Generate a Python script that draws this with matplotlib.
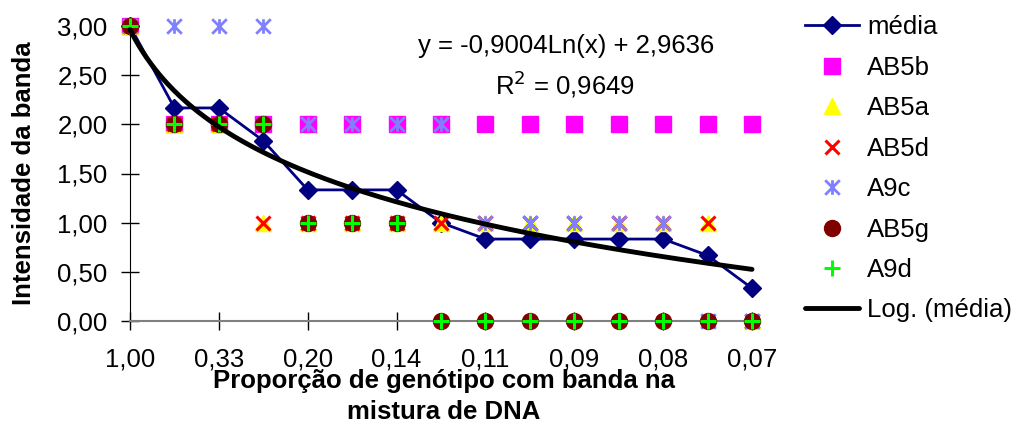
import numpy as np
import matplotlib
matplotlib.use("Agg")
import matplotlib.pyplot as plt
from matplotlib.path import Path

plt.rcParams['font.family'] = ['Liberation Sans', 'DejaVu Sans']

# Data
proportions = [1/1, 1/2, 1/3, 1/4, 1/5, 1/6, 1/7, 1/8, 1/9, 1/10, 1/11, 1/12, 1/13, 1/14, 1/15]
tick_labels = ["1,00", "0,33", "0,20", "0,14", "0,11", "0,09", "0,08", "0,07"]
AB5b = [3, 2, 2, 2, 2, 2, 2, 2, 2, 2, 2, 2, 2, 2, 2]
AB5a = [3, 2, 2, 1, 1, 1, 1, 1, 1, 1, 1, 1, 1, 1, 0]
AB5d = [3, 2, 2, 1, 1, 1, 1, 1, 1, 1, 1, 1, 1, 1, 0]
A9c = [3, 3, 3, 3, 2, 2, 2, 2, 1, 1, 1, 1, 1, 0, 0]
AB5g = [3, 2, 2, 2, 1, 1, 1, 0, 0, 0, 0, 0, 0, 0, 0]
A9d = [3, 2, 2, 2, 1, 1, 1, 0, 0, 0, 0, 0, 0, 0, 0]

series = {"AB5b": AB5b, "AB5a": AB5a, "AB5d": AB5d, "A9c": A9c, "AB5g": AB5g, "A9d": A9d}
media = np.mean(np.array(list(series.values()), dtype=float), axis=0)
x = np.arange(1, len(proportions) + 1)

# logarithmic trendline fitted on category index
slope, intercept = np.polyfit(np.log(x), media, 1)
pred = slope * np.log(x) + intercept
r2 = 1 - np.sum((media - pred) ** 2) / np.sum((media - media.mean()) ** 2)
xs = np.linspace(1, len(x), 300)
trend = slope * np.log(xs) + intercept

FS = 18.5
fig = plt.figure(figsize=(10.19, 4.25), dpi=100)
ax = fig.add_axes([130 / 1019, 1 - 321 / 425, (752 - 130) / 1019, (321 - 26) / 425])

ast = Path([(0, -1), (0, 1), (-1, -1), (1, 1), (-1, 1), (1, -1)],
           [Path.MOVETO, Path.LINETO, Path.MOVETO, Path.LINETO, Path.MOVETO, Path.LINETO])

ax.plot(x, media, color="#000080", lw=2, marker="D", ms=9, label="média", clip_on=False, zorder=3)
ax.plot(x, AB5b, ls="none", marker="s", ms=11, color="#FF00FF", label="AB5b", clip_on=False, zorder=3)
ax.plot(x, AB5a, ls="none", marker="^", ms=12, color="#FFFF00", label="AB5a", clip_on=False, zorder=3)
ax.plot(x, AB5d, ls="none", marker="x", ms=10.5, mew=2.2, color="#FF0000", label="AB5d", clip_on=False, zorder=3)
ax.plot(x, A9c, ls="none", marker=ast, ms=10.5, mew=2, color="#8080FF", label="A9c", clip_on=False, zorder=3)
ax.plot(x, AB5g, ls="none", marker="o", ms=11.5, color="#800000", label="AB5g", clip_on=False, zorder=3)
ax.plot(x, A9d, ls="none", marker="+", ms=11.5, mew=2.2, color="#00FF00", label="A9d", clip_on=False, zorder=3)
ax.plot(xs, trend, color="black", lw=3.5, label="Log. (média)", clip_on=False, zorder=4,
        solid_capstyle="round")

ax.set_xlim(1, 15)
ax.set_ylim(0, 3)
yt = np.arange(0, 3.01, 0.5)
ax.set_yticks(yt)
ax.set_yticklabels([f"{v:.2f}".replace(".", ",") for v in yt])
ax.set_xticks(x[::2])
ax.set_xticklabels(tick_labels)

for s in ["top", "right"]:
    ax.spines[s].set_visible(False)
ax.spines["bottom"].set_color("#808080")
ax.spines["bottom"].set_linewidth(1.5)
ax.spines["left"].set_color("black")
ax.tick_params(axis="both", direction="inout", length=12.5, width=1, labelsize=FS, colors="black")
ax.tick_params(axis="y", pad=10)
ax.tick_params(axis="x", pad=13)

ax.set_ylabel("Intensidade da banda", fontsize=FS, fontweight="bold", labelpad=15)
ax.set_xlabel("Proporção de genótipo com banda na\nmistura de DNA", fontsize=FS,
              fontweight="bold", linespacing=1.4)
ax.xaxis.set_label_coords(0.505, -0.162)

eq = f"y = {slope:.4f}Ln(x) + {intercept:.4f}".replace(".", ",")
fig.text(566 / 1019, 1 - 46 / 425, eq, fontsize=FS, ha="center", va="center")
fig.text(565 / 1019, 1 - 84 / 425, f"R$^2$ = {r2:.4f}".replace(".", ","), fontsize=FS,
         ha="center", va="center")

leg = fig.legend(loc="upper left", bbox_to_anchor=(795 / 1019, 1 - 5 / 425), frameon=False,
                 fontsize=FS, handlelength=2.1, labelspacing=0.64, handletextpad=0.3,
                 borderaxespad=0)

fig.savefig("out.png", dpi=100)
